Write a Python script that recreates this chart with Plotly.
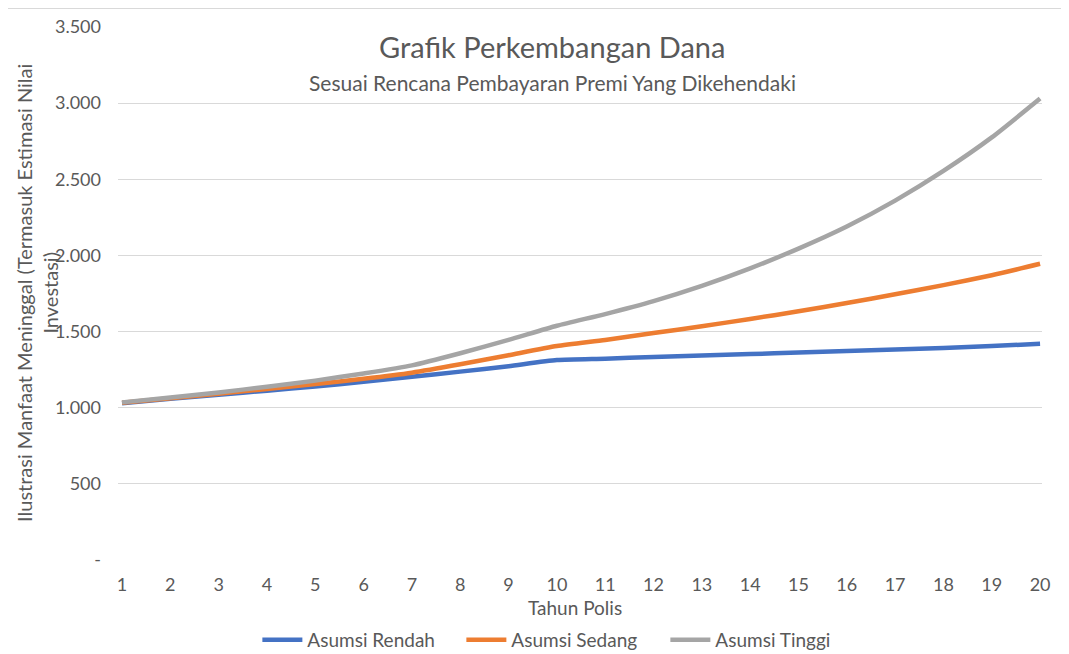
import plotly.graph_objects as go

tahun = list(range(1, 21))
asumsi_rendah = [1030, 1058, 1085, 1112, 1140, 1170, 1203, 1237, 1273, 1313,
                 1322, 1333, 1343, 1352, 1362, 1372, 1382, 1392, 1405, 1420]
asumsi_sedang = [1032, 1062, 1092, 1123, 1156, 1190, 1230, 1285, 1345, 1405,
                 1445, 1490, 1535, 1583, 1633, 1687, 1745, 1805, 1870, 1945]
asumsi_tinggi = [1035, 1067, 1100, 1138, 1178, 1225, 1278, 1358, 1445, 1538,
                 1615, 1700, 1800, 1915, 2045, 2190, 2360, 2555, 2775, 3030]
y_tickvals = [0, 500, 1000, 1500, 2000, 2500, 3000, 3500]
y_ticktext = ["-", "500", "1.000", "1.500", "2.000", "2.500", "3.000", "3.500"]

FONT = "Lato"
GREY = "#595959"

fig = go.Figure()
for name, vals, col in [("Asumsi Rendah", asumsi_rendah, "#4472C4"),
                        ("Asumsi Sedang", asumsi_sedang, "#ED7D31"),
                        ("Asumsi Tinggi", asumsi_tinggi, "#A5A5A5")]:
    fig.add_trace(go.Scatter(x=tahun, y=vals, mode="lines", name=name,
                             line=dict(color=col, width=4.5, shape="spline", smoothing=0.6)))

fig.update_layout(
    width=1061, height=646,
    margin=dict(l=110, r=27, t=19, b=94, autoexpand=False),
    paper_bgcolor="white", plot_bgcolor="white",
    font=dict(family=FONT, size=18, color=GREY),
    showlegend=True,
    legend=dict(orientation="h", x=0.482, xanchor="center",
                yref="container", y=1 - 632 / 646, yanchor="middle",
                font=dict(size=19, color=GREY), itemwidth=40, traceorder="normal",
                entrywidth=149),
    xaxis=dict(range=[0.917, 20.04], tickmode="array", tickvals=tahun, automargin=False,
               showgrid=False, zeroline=False, showline=False, ticks="",
               tickfont=dict(size=18, color=GREY), ticklabelstandoff=12),
    yaxis=dict(range=[0, 3500], tickmode="array", tickvals=y_tickvals, ticktext=y_ticktext,
               automargin=False,
               showgrid=True, gridcolor="#D9D9D9", gridwidth=1.2, zeroline=False,
               showline=False, ticks="", tickfont=dict(size=18, color=GREY),
               ticklabelstandoff=16),
    annotations=[
        dict(text="Grafik Perkembangan Dana", x=0.4697, y=0.9625, xref="paper", yref="paper",
             showarrow=False, font=dict(size=29, color=GREY), xanchor="center", yanchor="middle"),
        dict(text="Sesuai Rencana Pembayaran Premi Yang Dikehendaki", x=0.4697, y=0.895,
             xref="paper", yref="paper", showarrow=False, font=dict(size=21, color=GREY),
             xanchor="center", yanchor="middle"),
        dict(text="Tahun Polis", x=0.4946, y=-0.09, xref="paper", yref="paper",
             showarrow=False, font=dict(size=19, color=GREY), xanchor="center", yanchor="middle"),
        dict(text="Ilustrasi Manfaat Meninggal (Termasuk Estimasi Nilai<br>Investasi)",
             x=-0.0877, y=0.501, xref="paper", yref="paper", textangle=-90,
             showarrow=False, font=dict(size=20, color=GREY), xanchor="center", yanchor="middle",
             align="center"),
    ],
    shapes=[
        dict(type="line", xref="paper", yref="paper", x0=(5 - 118) / 924, x1=1.1,
             y0=(560 - 8.5) / 533, y1=(560 - 8.5) / 533, line=dict(color="#D9D9D9", width=1)),
        dict(type="line", xref="paper", yref="paper", x0=(5 - 118) / 924, x1=(5 - 118) / 924,
             y0=(560 - 8) / 533, y1=-0.2, line=dict(color="#D9D9D9", width=1)),
    ],
)

fig.write_html("out.html")
